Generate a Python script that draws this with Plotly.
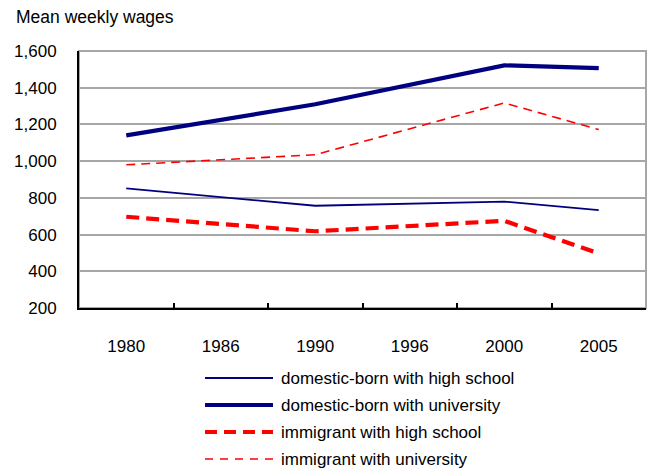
import plotly.graph_objects as go

# Survey years shown on the category axis
years = ["1980", "1986", "1990", "1996", "2000", "2005"]
# Years with observations
obs_years = ["1980", "1990", "2000", "2005"]

# Mean weekly wages by group
domestic_high_school = [852, 757, 780, 733]
domestic_university = [1140, 1310, 1522, 1507]
immigrant_high_school = [697, 618, 675, 498]
immigrant_university = [980, 1035, 1317, 1172]

y_ticks = [200, 400, 600, 800, 1000, 1200, 1400, 1600]

NAVY = "#000080"
RED = "#FF0000"
FONT = "Liberation Sans, Arial, sans-serif"

W, H = 652, 471
ML, MR, MT, MB = 79, 6, 51, 163
PW, PH = W - ML - MR, H - MT - MB


def px_x(p):
    return (p - ML) / PW


def px_y(p):
    return (H - MB - p) / PH


series = [
    ("domestic-born with high school", domestic_high_school, NAVY, 1.8, "solid", "solid"),
    ("domestic-born with university", domestic_university, NAVY, 4.2, "solid", "solid"),
    ("immigrant with high school", immigrant_high_school, RED, 4.2, "13px,7px", "12px,7px"),
    ("immigrant with university", immigrant_university, RED, 1.6, "9px,6px", "8px,7px"),
]

fig = go.Figure()
shapes = [dict(
    type="rect", xref="paper", yref="paper", x0=0, y0=0, x1=1, y1=1,
    line=dict(color="#A6A6A6", width=2), layer="below",
)]
annotations = [dict(
    text="Mean weekly wages", xref="paper", yref="paper",
    x=px_x(14), y=px_y(17), xanchor="left", yanchor="middle",
    showarrow=False, font=dict(size=17.5),
)]

# Key below the plot: a long sample line and a label per series
key_rows = [378, 405, 432, 459]
for (name, vals, color, width, dash, key_dash), row in zip(series, key_rows):
    fig.add_trace(go.Scatter(
        x=obs_years, y=vals, name=name, mode="lines",
        line=dict(color=color, width=width, dash=dash),
        showlegend=False,
    ))
    shapes.append(dict(
        type="line", xref="paper", yref="paper",
        x0=px_x(205), x1=px_x(273), y0=px_y(row), y1=px_y(row),
        line=dict(color=color, width=width, dash=key_dash),
    ))
    annotations.append(dict(
        text=name, xref="paper", yref="paper",
        x=px_x(279), y=px_y(row), xanchor="left", yanchor="middle",
        showarrow=False, font=dict(size=17),
    ))

fig.update_layout(
    width=W, height=H,
    margin=dict(l=ML, r=MR, t=MT, b=MB),
    paper_bgcolor="white", plot_bgcolor="white",
    font=dict(family=FONT, size=17, color="black"),
    showlegend=False,
    annotations=annotations,
    shapes=shapes,
)

fig.update_xaxes(
    type="category", categoryorder="array", categoryarray=years,
    range=[-0.5, len(years) - 0.5],
    showline=True, linecolor="black", linewidth=2,
    ticks="inside", tickson="boundaries", ticklen=5, tickcolor="black", tickwidth=1.5,
    showgrid=False, ticklabelstandoff=22,
)
fig.update_yaxes(
    range=[200, 1600], tickvals=y_ticks,
    ticktext=[f"{v:,}" for v in y_ticks],
    showline=True, linecolor="black", linewidth=2,
    showgrid=True, gridcolor="#A6A6A6", gridwidth=2,
    ticks="", ticklabelstandoff=17, zeroline=False,
)

fig.write_html("out.html")
